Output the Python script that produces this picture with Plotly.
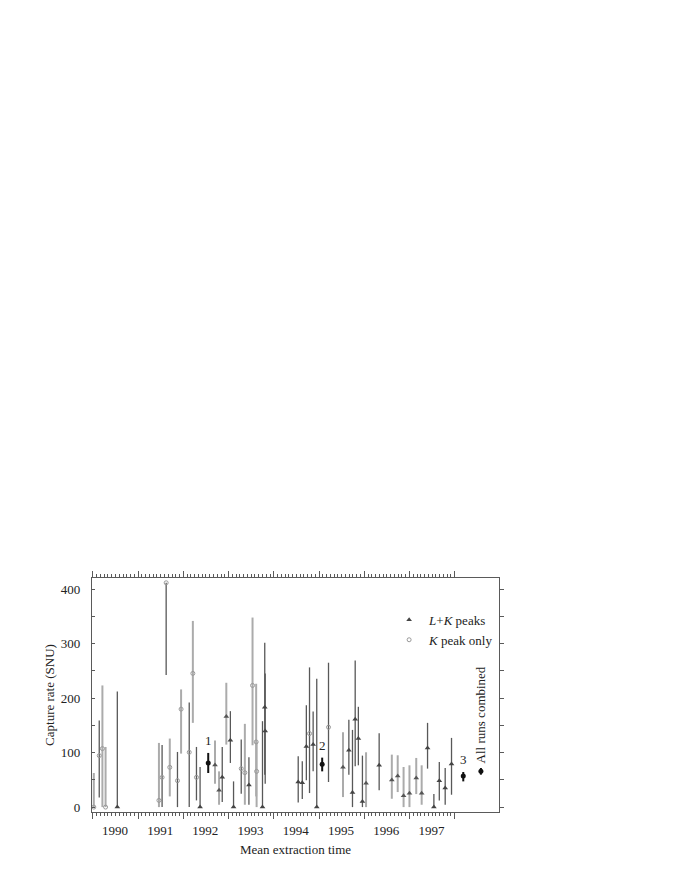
import plotly.graph_objects as go

# Single runs, L+K peaks (triangles), dark error bars: time, value, upper end, lower end (SNU)
lk_dark_t = [1990.54, 1992.37, 1992.86, 1993.04, 1993.11, 1993.45, 1993.75, 1993.80, 1993.81,
             1994.54, 1994.63, 1994.72, 1994.87, 1994.95, 1995.66, 1995.74, 1995.80, 1995.87,
             1995.96, 1996.33, 1997.40, 1997.54, 1997.66, 1997.79, 1997.93]
lk_dark_v = [0, 0, 54.6, 122.7, 0, 40.5, 0, 183.4, 139.9,
             46, 44.8, 111, 114.7, 0, 104.3, 27, 161.4, 125.8,
             10.4, 76.7, 108.6, 0, 48.5, 35, 79.1]
lk_dark_hi = [212, 73.6, 110.4, 176.1, 47.2, 91.4, 157.7, 301.8, 245.4,
              93.3, 84, 187.1, 175.5, 235.6, 160.1, 141.7, 269.3, 184.1,
              94.5, 135.6, 154.6, 23.9, 82.8, 71.8, 127]
lk_dark_lo = [0, 0, 9.2, 81, 0, 4.3, 0, 59.5, 42.9,
              8.6, 14.7, 49.1, 65.6, 0, 59.5, 0, 74.8, 76.7,
              0, 30.7, 70.6, 0, 12.3, 4.3, 22.7]

# L+K peaks, light error bars
lk_light_t = [1992.70, 1992.79, 1992.95, 1995.53, 1996.04, 1996.61, 1996.74, 1996.87,
              1997.00, 1997.15, 1997.27]
lk_light_v = [77.3, 30.7, 166.3, 73, 43.6, 49.7, 57, 20.9, 25.2, 53.4, 25.2]
lk_light_hi = [122.1, 65.6, 228.2, 137.4, 100.6, 96.3, 95.1, 73.6, 76.7, 90.2, 76.7]
lk_light_lo = [42.9, 4.3, 114.7, 18.4, 0, 15.3, 27.6, 0, 0, 23.9, 4.3]

# K peak only (open circles), dark error bars
k_dark_t = [1990.14, 1991.53, 1991.62, 1991.87, 1992.13, 1992.29, 1993.28, 1994.79, 1995.21]
k_dark_v = [94.5, 54.6, 411.7, 48.5, 100.6, 54.6, 70.6, 135, 146.6]
k_dark_hi = [158.9, 114, 411.7, 101.2, 192, 110.4, 123.9, 256.4, 265]
k_dark_lo = [17.8, 0, 242.3, 0, 0, 12.3, 24.5, 25.8, 46]

# K peak only, light error bars
k_light_t = [1990.02, 1990.21, 1990.28, 1991.46, 1991.70, 1991.95, 1992.21, 1993.36,
             1993.53, 1993.61, 1993.62]
k_light_v = [0, 107.4, 0, 12.3, 73, 179.8, 245.4, 63.2, 223.3, 119.6, 65.6]
k_light_hi = [62.6, 223.3, 110.4, 117.8, 125.8, 216, 341.7, 152.8, 347.9, 226.4, 120]
k_light_lo = [0, 0, 0, 0, 19.6, 98.2, 154.6, 4.3, 113.5, 19.6, 0]

# Combined results: GALLEX 1, 2, 3 and all runs
comb_t = [1992.55, 1995.07, 1998.19, 1998.58]
comb_v = [81, 78.5, 57, 65.6]
comb_hi = [99.4, 90.8, 64.4, 71.8]
comb_lo = [62.6, 65.6, 47.2, 59.5]
comb_labels = ["1", "2", "3", "All runs combined"]

years = list(range(1990, 1999))
year_labels = [str(y) for y in years[:-1]] + [""]

DARK = "#585858"
LIGHT = "#ababab"
AXIS = "#5a5a5a"
FONT = "Liberation Serif"


def runs(t, v, hi, lo, symbol, mcolor, bcolor, thick, size, lw=0):
    return go.Scatter(
        x=t, y=v, mode="markers", showlegend=False,
        marker=dict(symbol=symbol, size=size, color=mcolor, line=dict(width=lw, color=mcolor)),
        error_y=dict(type="data", symmetric=False,
                     array=[h - x for h, x in zip(hi, v)],
                     arrayminus=[x - l for x, l in zip(v, lo)],
                     color=bcolor, thickness=thick, width=0),
    )


fig = go.Figure()
fig.add_trace(runs(k_light_t, k_light_v, k_light_hi, k_light_lo, "circle-open", "#999999", LIGHT, 2, 4, 1))
fig.add_trace(runs(lk_light_t, lk_light_v, lk_light_hi, lk_light_lo, "triangle-up", "#555555", LIGHT, 2, 5))
fig.add_trace(runs(k_dark_t, k_dark_v, k_dark_hi, k_dark_lo, "circle-open", "#999999", DARK, 1.3, 4, 1))
fig.add_trace(runs(lk_dark_t, lk_dark_v, lk_dark_hi, lk_dark_lo, "triangle-up", "#444444", DARK, 1.3, 5))
fig.add_trace(runs(comb_t, comb_v, comb_hi, comb_lo, "circle", "#111111", "#111111", 2, 5))

# legend entries
fig.add_trace(go.Scatter(x=[None], y=[None], mode="markers", name="<i>L</i>+<i>K</i> peaks",
                         marker=dict(symbol="triangle-up", size=5, color="#444444")))
fig.add_trace(go.Scatter(x=[None], y=[None], mode="markers", name="<i>K</i> peak only",
                         marker=dict(symbol="circle-open", size=4, color="#999999", line=dict(width=1))))

# right-hand axis ticks
fig.add_trace(go.Scatter(x=[None], y=[None], yaxis="y2", showlegend=False, hoverinfo="skip"))

for i, lab in enumerate(comb_labels[:3]):
    fig.add_annotation(x=comb_t[i], y=comb_hi[i], text=lab, showarrow=False,
                       yanchor="bottom", yshift=3, font=dict(size=13, color="#222"))
fig.add_annotation(x=comb_t[3], y=comb_hi[3], text=comb_labels[3], showarrow=False,
                   textangle=-90, yanchor="bottom", yshift=3, font=dict(size=13, color="#222"))

yr = [-9, 420.5]
fig.update_layout(
    width=684, height=888,
    margin=dict(l=84, r=193, t=570, b=84),
    plot_bgcolor="white", paper_bgcolor="white",
    font=dict(family=FONT, size=13, color="#222"),
    showlegend=True,
    legend=dict(x=0.73, y=0.885, xanchor="left", yanchor="top", bgcolor="rgba(0,0,0,0)",
                font=dict(size=13), itemwidth=30, tracegroupgap=0),
    xaxis=dict(range=[1989.98, 1998.98], tickvals=years, ticktext=year_labels,
               ticklabelshift=22, ticks="outside", ticklen=6, tickcolor=AXIS,
               tickfont=dict(size=13),
               minor=dict(tickmode="array",
                          tickvals=[y + m / 12 for y in years[:-1] for m in range(1, 12)],
                          ticks="outside", ticklen=3, tickcolor=AXIS),
               showline=True, linecolor=AXIS, linewidth=1.3, mirror="ticks",
               showgrid=False, zeroline=False, automargin=False,
               title=dict(text="Mean extraction time", standoff=8, font=dict(size=13))),
    yaxis=dict(range=yr, tickvals=list(range(0, 401, 50)),
               ticktext=[str(v) if v % 100 == 0 else "" for v in range(0, 401, 50)],
               ticks="inside", ticklen=3, tickcolor=AXIS, tickfont=dict(size=13),
               showline=True, linecolor=AXIS, linewidth=1.3,
               showgrid=False, zeroline=False, ticklabelstandoff=8, automargin=False,
               title=dict(text="Capture rate (SNU)", standoff=3, font=dict(size=13))),
    yaxis2=dict(range=yr, overlaying="y", side="right", tickvals=list(range(0, 401, 50)),
                showticklabels=False, ticks="outside", ticklen=4, tickcolor=AXIS,
                showline=True, linecolor=AXIS, linewidth=1.3, showgrid=False, zeroline=False,
                automargin=False),
)

fig.write_html("out.html")
